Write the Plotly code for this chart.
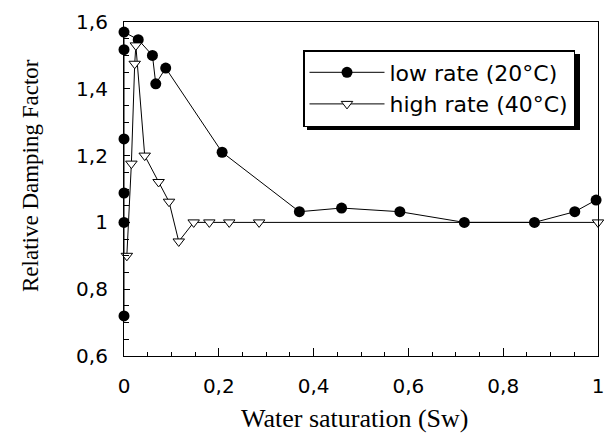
import plotly.graph_objects as go

# low rate (20°C) — filled circles
low_x = [0.0, 0.0, 0.0, 0.0, 0.0, 0.0, 0.030, 0.060, 0.067, 0.088, 0.207, 0.370, 0.459, 0.582, 0.718, 0.866, 0.951, 0.996]
low_y = [0.72, 1.00, 1.088, 1.25, 1.517, 1.57, 1.547, 1.50, 1.415, 1.462, 1.21, 1.032, 1.043, 1.032, 1.00, 1.00, 1.032, 1.067]

# high rate (40°C) — open down-triangles
high_x = [0.006, 0.0156, 0.0226, 0.025, 0.0437, 0.073, 0.095, 0.1155, 0.147, 0.180, 0.222, 0.285, 1.0]
high_y = [0.90, 1.176, 1.475, 1.53, 1.20, 1.121, 1.062, 0.943, 1.00, 1.00, 1.00, 1.00, 1.00]

x_ticks = [0, 0.2, 0.4, 0.6, 0.8, 1]
y_ticks = [0.6, 0.8, 1.0, 1.2, 1.4, 1.6]

fig = go.Figure()
fig.add_trace(go.Scatter(
    x=low_x, y=low_y, mode="lines+markers", name="low rate (20°C)",
    line=dict(color="black", width=1),
    marker=dict(symbol="circle", size=11, color="black"),
    cliponaxis=False,
))
fig.add_trace(go.Scatter(
    x=high_x, y=high_y, mode="lines+markers", name="high rate (40°C)",
    line=dict(color="black", width=1),
    marker=dict(symbol="triangle-down", size=10, color="white",
                line=dict(color="black", width=1)),
    cliponaxis=False,
))

tickfont = dict(family="DejaVu Sans", size=20, color="black")

L = 124
W = 604 - 124 - 6
B = 77
H = 433 - 22 - 77


def px(xp):
    return (xp - L) / W


def py(yp):
    return (433 - B - yp) / H


fig.update_layout(
    width=604, height=433,
    margin=dict(l=L, r=6, t=22, b=B),
    paper_bgcolor="white", plot_bgcolor="white",
    separators=",.",
    showlegend=True,
    legend=dict(
        x=px(303), y=py(50), xanchor="left", yanchor="top",
        bgcolor="white", bordercolor="black", borderwidth=1.5,
        font=dict(family="DejaVu Sans", size=22, color="black"),
        itemwidth=75,
    ),
    shapes=[dict(
        type="rect", xref="paper", yref="paper",
        x0=px(307), x1=px(580), y0=py(54), y1=py(130),
        fillcolor="black", line=dict(width=0), layer="above",
    )],
    annotations=[
        dict(text="Water saturation (Sw)", xref="paper", yref="paper",
             x=px(355), y=py(418), xanchor="center", yanchor="middle",
             showarrow=False,
             font=dict(family="Liberation Serif", size=26, color="black")),
        dict(text="Relative Damping Factor", xref="paper", yref="paper",
             x=px(30), y=py(176), xanchor="center", yanchor="middle",
             textangle=-90, showarrow=False,
             font=dict(family="Liberation Serif", size=23, color="black")),
    ],
    xaxis=dict(
        range=[0, 1], tickvals=x_ticks, showgrid=False, zeroline=False,
        showline=True, linecolor="black", linewidth=1.2, mirror=True,
        ticks="inside", ticklen=8, tickcolor="black",
        minor=dict(dtick=0.05, ticks="inside", ticklen=4, tickcolor="black", showgrid=False),
        tickfont=tickfont, ticklabeloverflow="allow", ticklabelstandoff=12,
        automargin=False,
    ),
    yaxis=dict(
        range=[0.6, 1.6], tickvals=y_ticks, showgrid=False, zeroline=False,
        showline=True, linecolor="black", linewidth=1.2, mirror=True,
        ticks="inside", ticklen=6, tickcolor="black",
        minor=dict(dtick=0.05, ticks="inside", ticklen=5, tickcolor="black", showgrid=False),
        tickfont=tickfont, ticklabeloverflow="allow", ticklabelstandoff=11,
        automargin=False,
    ),
)

fig.write_html("out.html")
